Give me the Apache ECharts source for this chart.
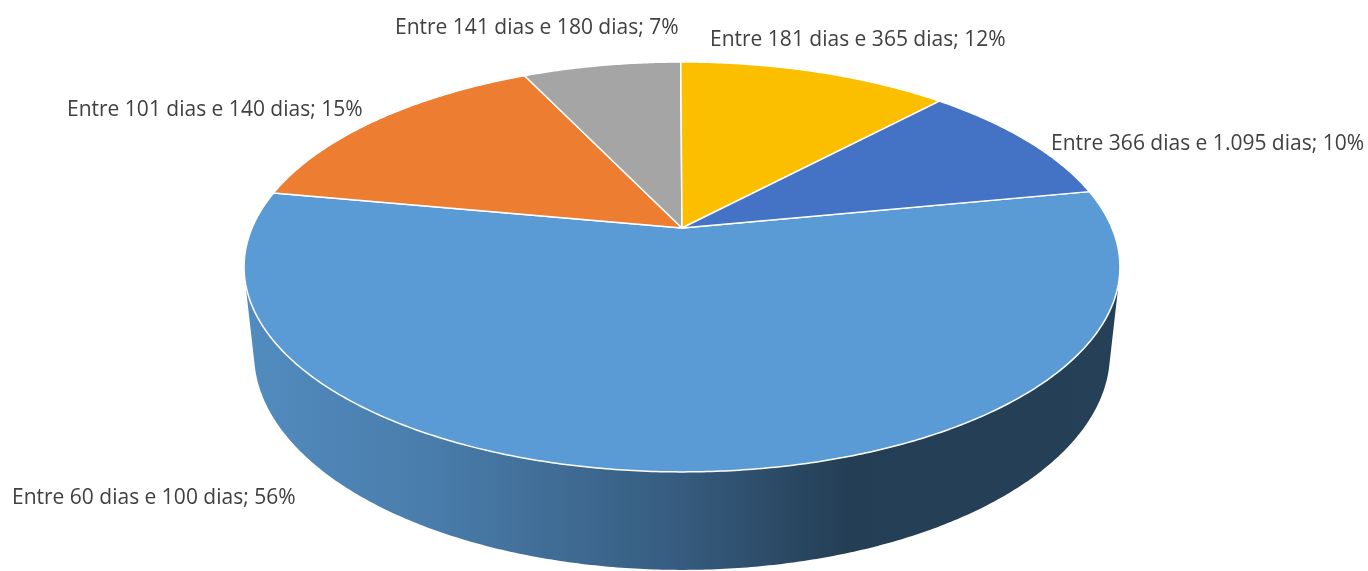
<!DOCTYPE html>
<html>
<head>
<meta charset="utf-8">
<script src="https://cdn.jsdelivr.net/npm/echarts@6/dist/echarts.min.js"></script>
<style>
    html, body {margin: 0; padding: 0; background: #fff;}
    #chart {width: 1368px; height: 571px;}
</style>
</head>
<body>
<div id="chart"></div>
<script>
// dados (ordem da série no Excel)
var categories = ['Entre 60 dias e 100 dias', 'Entre 101 dias e 140 dias', 'Entre 141 dias e 180 dias',
    'Entre 181 dias e 365 dias', 'Entre 366 dias e 1.095 dias'];
var values = [56, 15, 7, 12, 10];
var colors = ['#5b9bd5', '#ed7d31', '#a5a5a5', '#fcbf00', '#4472c4'];

// layout (posição dos rótulos, geometria da pizza 3D)
var labelPos = [[12, 498], [67, 110], [395, 28], [710, 40], [1051, 144]];
var startAngle = 79;   // ângulo da primeira fatia, horário a partir das 12h
var view = {cx: 682, cy: 228, F: 2010, L: 4.675, sinA: 0.4595, cosA: 0.888, h: 0.228};

var total = values.reduce(function (a, b) { return a + b; }, 0);

function sliceAngles(i) {
    var acc = 0;
    for (var k = 0; k < i; k++) acc += values[k];
    var a1 = startAngle + acc / total * 360;
    return [a1, a1 + values[i] / total * 360];
}

// projeção em perspectiva de um ponto da borda (a em graus, z=0 topo, z=-h base)
function proj(a, z) {
    var r = a * Math.PI / 180;
    var u = Math.sin(r), v = -Math.cos(r);
    var d = view.L - v * view.cosA - z * view.sinA;
    return [view.cx + view.F * u / d, view.cy + view.F * (v * view.sinA - z * view.cosA) / d];
}

function shade(hex, f) {
    var n = parseInt(hex.slice(1), 16);
    var r = Math.round(((n >> 16) & 255) * f), g = Math.round(((n >> 8) & 255) * f), b = Math.round((n & 255) * f);
    return 'rgb(' + r + ',' + g + ',' + b + ')';
}

function arc(a1, a2, z) {
    var pts = [];
    var n = Math.max(2, Math.ceil((a2 - a1) / 0.5));
    for (var k = 0; k <= n; k++) pts.push(proj(a1 + (a2 - a1) * k / n, z));
    return pts;
}

var aVis = Math.acos(-1 / (view.L * view.cosA)) * 180 / Math.PI;
var wallX0 = view.cx - 440, wallX1 = view.cx + 440;

function renderWall(params, api) {
    var i = params.dataIndex;
    var ang = sliceAngles(i);
    var children = [];
    [[aVis, 360 - aVis], [aVis + 360, 720 - aVis]].forEach(function (rng) {
        var s = Math.max(ang[0], rng[0]), e = Math.min(ang[1], rng[1]);
        if (e <= s) return;
        var pts = arc(s, e, 0).concat(arc(s, e, -view.h).reverse());
        var c = colors[i];
        children.push({
            type: 'polygon',
            shape: {points: pts},
            style: {
                fill: new echarts.graphic.LinearGradient(wallX0, 0, wallX1, 0, [
                    {offset: 0, color: shade(c, 0.9)},
                    {offset: 0.22, color: shade(c, 0.8)},
                    {offset: 0.41, color: shade(c, 0.66)},
                    {offset: 0.5, color: shade(c, 0.59)},
                    {offset: 0.69, color: shade(c, 0.4)},
                    {offset: 1, color: shade(c, 0.41)}
                ], true)
            }
        });
    });
    return {type: 'group', children: children};
}

function renderTop(params, api) {
    var i = params.dataIndex;
    var ang = sliceAngles(i);
    var pts = [[view.cx, view.cy]].concat(arc(ang[0], ang[1], 0));
    var pct = Math.round(values[i] / total * 100);
    return {
        type: 'group',
        children: [{
            type: 'polygon',
            shape: {points: pts},
            style: {fill: colors[i], stroke: '#fff', lineWidth: 1.5, lineJoin: 'round'}
        }, {
            type: 'text',
            style: {
                text: categories[i] + '; ' + pct + '%',
                x: labelPos[i][0], y: labelPos[i][1],
                fill: '#404040',
                font: '21px "Open Sans"',
                align: 'left', verticalAlign: 'middle',
                textAlign: 'left', textVerticalAlign: 'middle'
            }
        }]
    };
}

var chart = echarts.init(document.getElementById('chart'));
chart.setOption({
    backgroundColor: '#fff',
    animation: false,
    series: [{
        type: 'custom',
        coordinateSystem: 'none',
        renderItem: renderWall,
        data: values,
        z: 1,
        silent: true
    }, {
        type: 'custom',
        coordinateSystem: 'none',
        renderItem: renderTop,
        data: values,
        z: 2
    }]
});
</script>
</body>
</html>
